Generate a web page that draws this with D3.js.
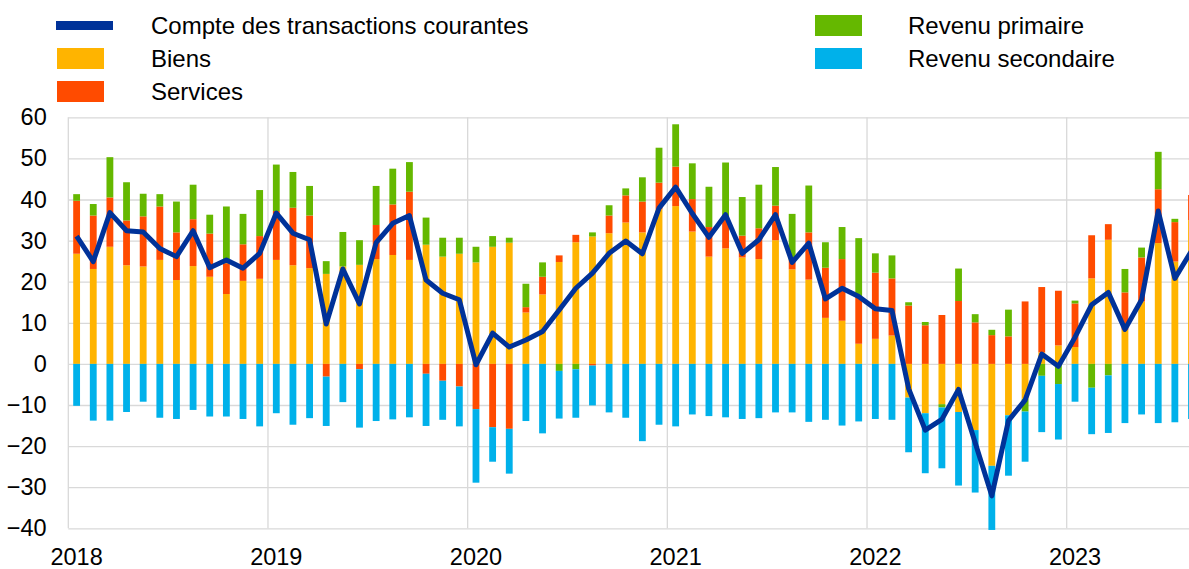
<!DOCTYPE html>
<html>
<head>
<meta charset="utf-8">
<script src="https://cdn.jsdelivr.net/npm/d3@7"></script>
<style>
    body { margin: 0; background: #fff; }
    svg text { font-family: "Liberation Sans", Arial, sans-serif; fill: #000; }
</style>
</head>
<body>
<div id="chart"></div>
<script>

// monthly data, Jan 2018 - Aug 2023 (EUR bn)
var years = ["2018", "2019", "2020", "2021", "2022", "2023"];

var biens = [
    26.8, 23.1, 28.5, 24.0, 23.7, 25.3, 20.4, 23.8, 21.2, 17.0, 20.2, 20.7,
    25.3, 24.0, 23.3, 21.9, 23.7, 24.1, 25.5, 26.5, 25.3, 29.0, 26.1, 26.8,
    24.7, 28.5, 29.5, 12.5, 16.9, 24.8, 29.6, 31.0, 31.8, 34.4, 32.0, 37.6,
    38.4, 32.2, 26.1, 28.1, 25.9, 25.5, 30.1, 23.0, 20.5, 11.2, 10.5, 4.9,
    6.1, 6.9, -8.2, -12.0, -9.8, -11.7, -16.1, -24.8, -12.5, -8.5, 2.8, 4.5,
    4.1, 20.8, 30.2, 8.3, 15.2, 29.4, 24.9, 35.0
];
var services = [
    12.9, 13.0, 12.0, 10.9, 12.2, 13.0, 11.6, 11.4, 10.5, 7.5, 8.9, 10.4,
    11.9, 14.0, 12.8, -3.1, 0.0, -1.3, 8.3, 12.3, 16.6, -2.4, -4.1, -5.5,
    -11.0, -15.4, -15.8, 1.3, 4.3, 1.6, 1.8, -0.4, 4.3, 6.6, 7.5, 6.5,
    9.6, 7.9, 7.2, 7.7, 5.3, 7.5, 8.4, 2.3, 11.5, 12.2, 15.0, 11.5,
    16.1, 13.9, 14.2, 9.4, 11.9, 15.3, 10.1, 7.0, 6.7, 15.2, 15.9, 13.3,
    10.6, 10.5, 3.8, 9.1, 10.7, 13.1, 9.6, 6.1
];
var revenuPrimaire = [
    1.6, 2.8, 9.8, 9.3, 5.5, 3.0, 7.5, 8.4, 4.6, 13.8, 7.4, 11.2,
    11.3, 8.7, 7.2, 3.1, 8.4, 6.0, 9.5, 8.7, 7.2, 6.6, 4.6, 3.9,
    3.8, 2.6, 1.2, 5.7, 3.5, -1.7, -1.3, 1.0, 2.5, 1.7, 5.9, 8.5,
    10.3, 8.7, 9.8, 13.2, 9.4, 10.6, 9.4, 11.2, 11.4, 6.2, 7.8, 14.2,
    4.7, 5.6, 0.8, 0.8, -0.8, 7.9, 2.0, 1.3, 6.5, -3.1, -2.9, -4.9,
    0.7, -5.8, -2.8, 5.7, 2.4, 9.1, 0.8, 0.0
];
var revenuSecondaire = [
    -10.2, -13.8, -13.8, -11.7, -9.2, -13.1, -13.4, -11.2, -12.8, -12.8, -13.4, -15.2,
    -12.0, -14.8, -13.2, -12.0, -9.3, -14.2, -13.9, -13.5, -13.0, -12.7, -9.5, -9.7,
    -17.9, -8.4, -10.9, -13.9, -16.9, -11.6, -11.8, -9.7, -11.8, -13.1, -18.8, -14.8,
    -15.2, -12.3, -12.7, -13.0, -13.4, -13.2, -11.8, -11.8, -14.1, -13.6, -15.0, -14.0,
    -13.4, -13.6, -13.3, -14.6, -14.8, -17.9, -15.2, -15.6, -14.7, -12.2, -13.7, -13.5,
    -9.2, -11.3, -14.0, -14.4, -12.3, -14.4, -14.2, -13.4
];
var compteCourant = [
    31.1, 24.9, 36.8, 32.4, 32.1, 28.1, 26.1, 32.4, 23.4, 25.3, 23.3, 26.9,
    36.7, 31.8, 30.2, 9.7, 23.1, 14.6, 29.5, 34.2, 36.1, 20.4, 17.2, 15.6,
    -0.2, 7.5, 4.1, 5.8, 7.9, 13.1, 18.4, 22.1, 26.9, 29.9, 26.8, 37.9,
    43.0, 36.6, 30.8, 36.3, 26.9, 30.2, 36.3, 24.7, 29.4, 15.8, 18.4, 16.4,
    13.4, 13.0, -6.0, -16.1, -13.5, -6.2, -19.2, -32.1, -13.8, -8.8, 2.4, -0.6,
    6.5, 14.4, 17.4, 8.4, 15.6, 37.2, 20.8, 27.5
];
var yTicks = [-40, -30, -20, -10, 0, 10, 20, 30, 40, 50, 60];

var series = [
    { key: "biens", label: "Biens", color: "#FFB400", values: biens },
    { key: "services", label: "Services", color: "#FF4B00", values: services },
    { key: "primaire", label: "Revenu primaire", color: "#65B800", values: revenuPrimaire },
    { key: "secondaire", label: "Revenu secondaire", color: "#00B1EA", values: revenuSecondaire }
];
var lineColor = "#003299";

var width = 1189, height = 569;
var plotLeft = 68.3, plotTop = 117.3, plotBottom = 528.3;
var step = 16.64;
var n = biens.length;

var svg = d3.select("#chart").append("svg")
    .attr("width", width)
    .attr("height", height);

var x = d3.scaleBand()
    .domain(d3.range(n))
    .range([plotLeft, plotLeft + n * step]);

var y = d3.scaleLinear()
    .domain([-40, 60])
    .range([plotBottom, plotTop]);

// table for the stack
var rows = d3.range(n).map(function (i) {
    var r = { i: i };
    series.forEach(function (s) { r[s.key] = s.values[i]; });
    return r;
});

var stack = d3.stack()
    .keys(series.map(function (s) { return s.key; }))
    .offset(d3.stackOffsetDiverging);

// grid
var yAxis = d3.axisLeft(y)
    .tickValues(yTicks)
    .tickSize(-(width - plotLeft))
    .tickPadding(21.6);

var gy = svg.append("g")
    .attr("transform", "translate(" + plotLeft + ",0)")
    .call(yAxis);
gy.select(".domain").remove();
gy.selectAll(".tick line").attr("stroke", "#d9d9d9").attr("stroke-width", 1.3);
gy.selectAll(".tick text").attr("font-size", 23.5).attr("fill", "#000");

var janIdx = years.map(function (yr, k) { return k * 12; });

svg.append("g").selectAll("line")
    .data(janIdx)
    .enter().append("line")
    .attr("x1", function (i) { return x(i); })
    .attr("x2", function (i) { return x(i); })
    .attr("y1", plotTop)
    .attr("y2", plotBottom)
    .attr("stroke", "#d9d9d9")
    .attr("stroke-width", 1.3);

svg.append("g").selectAll("text")
    .data(janIdx)
    .enter().append("text")
    .attr("x", function (i) { return x(i) + x.bandwidth() / 2; })
    .attr("y", 565)
    .attr("text-anchor", "middle")
    .attr("font-size", 23.5)
    .text(function (i, k) { return years[k]; });

// bars
var barW = x.bandwidth() * 0.41;

var layers = svg.append("g").selectAll("g")
    .data(stack(rows))
    .enter().append("g")
    .attr("fill", function (d, k) { return series[k].color; });

layers.selectAll("rect")
    .data(function (d) { return d; })
    .enter().append("rect")
    .attr("x", function (d) { return x(d.data.i) + (x.bandwidth() - barW) / 2; })
    .attr("width", barW)
    .attr("y", function (d) { return y(Math.max(d[0], d[1])); })
    .attr("height", function (d) { return Math.abs(y(d[0]) - y(d[1])); });

// current account line
var line = d3.line()
    .x(function (d, i) { return x(i) + x.bandwidth() / 2; })
    .y(function (d) { return y(d); });

svg.append("path")
    .datum(compteCourant)
    .attr("d", line)
    .attr("fill", "none")
    .attr("stroke", lineColor)
    .attr("stroke-width", 5)
    .attr("stroke-linejoin", "round");

// legend
var legendItems = [
    { label: "Compte des transactions courantes", color: lineColor, line: true, x: 56, y: 25.5 },
    { label: series[0].label, color: series[0].color, x: 57, y: 58.5 },
    { label: series[1].label, color: series[1].color, x: 57, y: 91.5 },
    { label: series[2].label, color: series[2].color, x: 815, y: 25.5 },
    { label: series[3].label, color: series[3].color, x: 815, y: 58.5 }
];

var lg = svg.append("g").selectAll("g")
    .data(legendItems)
    .enter().append("g");

lg.append("rect")
    .attr("x", function (d) { return d.x; })
    .attr("y", function (d) { return d.line ? d.y - 4.5 : d.y - 10.5; })
    .attr("width", function (d) { return d.line ? 57 : 47; })
    .attr("height", function (d) { return d.line ? 9 : 21; })
    .attr("fill", function (d) { return d.color; });

lg.append("text")
    .attr("x", function (d) { return d.x < 400 ? 151 : 908; })
    .attr("y", function (d) { return d.y + 8.2; })
    .attr("font-size", 24)
    .text(function (d) { return d.label; });

</script>
</body>
</html>
